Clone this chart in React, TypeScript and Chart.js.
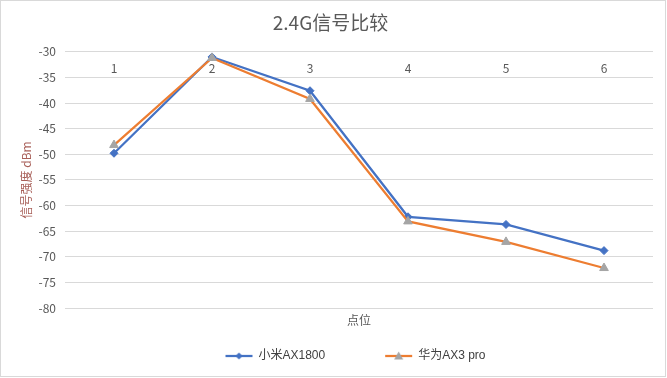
import React, { useEffect, useRef } from "react";
import { Chart, registerables } from "chart.js";

Chart.register(...registerables);

const categories = ["1", "2", "3", "4", "5", "6"];
const xiaomiValues = [-49.8, -31, -37.6, -62.2, -63.7, -68.8];
const huaweiValues = [-48.2, -31.2, -39.2, -63.1, -67.1, -72.2];
const seriesNames = ["小米AX1800", "华为AX3 pro"];
const chartTitle = "2.4G信号比较";
const yTitle = "信号强度 dBm";
const xTitle = "点位";

const CJK = "'Noto Sans CJK SC', sans-serif";
const LEGEND_FONT = "'Liberation Sans', 'Noto Sans CJK SC', sans-serif";
const GREY_TEXT = "#595959";
const BLUE = "#4472C4";
const ORANGE = "#ED7D31";
const MARKER_GREY = "#A5A5A5";
const BOX_W = 77;

function legendImage(color: string, marker: "diamond" | "triangle"): HTMLCanvasElement {
  const c = document.createElement("canvas");
  const w = BOX_W + 4;
  c.width = w;
  c.height = 12;
  const ctx = c.getContext("2d")!;
  const y = 6;
  ctx.strokeStyle = color;
  ctx.lineWidth = 2.25;
  ctx.beginPath();
  ctx.moveTo(w - 29, y);
  ctx.lineTo(w - 2, y);
  ctx.stroke();
  const cx = w - 15.5;
  if (marker === "diamond") {
    ctx.fillStyle = color;
    ctx.beginPath();
    ctx.moveTo(cx, y - 3.5);
    ctx.lineTo(cx + 3.5, y);
    ctx.lineTo(cx, y + 3.5);
    ctx.lineTo(cx - 3.5, y);
    ctx.closePath();
    ctx.fill();
  } else {
    ctx.fillStyle = MARKER_GREY;
    ctx.beginPath();
    ctx.moveTo(cx, y - 4.5);
    ctx.lineTo(cx + 4.5, y + 3.5);
    ctx.lineTo(cx - 4.5, y + 3.5);
    ctx.closePath();
    ctx.fill();
  }
  return c;
}

const frame = {
  id: "frame",
  beforeDraw(chart: any) {
    const { ctx, width, height } = chart;
    ctx.save();
    ctx.fillStyle = "#ffffff";
    ctx.fillRect(0, 0, width, height);
    ctx.strokeStyle = "#d9d9d9";
    ctx.lineWidth = 1;
    ctx.strokeRect(0.5, 0.5, width - 2, height - 2);
    ctx.restore();
  },
};

export default function App() {
  const ref = useRef<HTMLCanvasElement | null>(null);
  useEffect(() => {
    if (!ref.current) return;
    const images = [legendImage(BLUE, "diamond"), legendImage(ORANGE, "triangle")];
    const chart = new Chart(ref.current, {
      type: "line",
      data: {
        labels: categories,
        datasets: [
          {
            label: seriesNames[0],
            data: xiaomiValues,
            borderColor: BLUE,
            backgroundColor: BLUE,
            borderWidth: 2.25,
            pointStyle: "rectRot",
            pointRadius: 4,
            pointBackgroundColor: BLUE,
            pointBorderColor: BLUE,
            pointBorderWidth: 1,
            order: 1,
          },
          {
            label: seriesNames[1],
            data: huaweiValues,
            borderColor: ORANGE,
            backgroundColor: ORANGE,
            borderWidth: 2.25,
            pointStyle: "triangle",
            pointRadius: 5,
            pointBackgroundColor: MARKER_GREY,
            pointBorderColor: MARKER_GREY,
            pointBorderWidth: 1,
            order: 0,
          },
        ],
      },
      options: {
        responsive: false,
        animation: false,
        layout: { padding: { left: 8, right: 14, top: 0, bottom: 6 } },
        plugins: {
          tooltip: { enabled: false },
          title: {
            display: true,
            text: chartTitle,
            color: GREY_TEXT,
            font: { family: CJK, size: 19, weight: "normal" },
            padding: { top: 11, bottom: 18 },
          },
          legend: {
            position: "bottom",
            labels: {
              usePointStyle: true,
              pointStyleWidth: BOX_W,
              boxHeight: 12,
              padding: 10,
              color: "#404040",
              font: { family: LEGEND_FONT, size: 12 },
              generateLabels: (c: any) => {
                const items = Chart.defaults.plugins.legend.labels.generateLabels(c);
                return items
                  .slice()
                  .sort((a: any, b: any) => a.datasetIndex - b.datasetIndex)
                  .map((it: any) => ({ ...it, pointStyle: images[it.datasetIndex] }));
              },
            },
          },
        },
        scales: {
          y: {
            min: -80,
            max: -30,
            ticks: { stepSize: 5, color: GREY_TEXT, font: { family: CJK, size: 12 }, padding: 9 },
            grid: { color: "#d9d9d9", lineWidth: 1, drawTicks: false },
            border: { display: false },
            title: {
              display: true,
              text: yTitle,
              color: "#a85f58",
              font: { family: CJK, size: 12 },
              padding: { top: 11, bottom: 0 },
            },
            afterFit: (s: any) => {
              s.width = 57;
            },
          },
          x: {
            type: "category",
            position: { y: -30 } as any,
            offset: true,
            grid: { display: false },
            border: { display: false },
            ticks: { color: GREY_TEXT, font: { family: CJK, size: 12 }, padding: 1, maxRotation: 0 },
          },
          x2: {
            type: "category",
            position: "bottom",
            offset: true,
            grid: { display: false },
            border: { display: false },
            ticks: { display: false },
            title: {
              display: true,
              text: xTitle,
              color: GREY_TEXT,
              font: { family: CJK, size: 12 },
              padding: { top: 0, bottom: 12.8 },
            },
            afterFit: (s: any) => {
              s.height = 32;
            },
          },
        },
      },
      plugins: [frame],
    });
    return () => chart.destroy();
  }, []);
  return (
    <div style={{ position: "fixed", left: 0, top: 0, width: 667, height: 378, background: "#fff" }}>
      <canvas ref={ref} width={667} height={378} style={{ display: "block" }} />
    </div>
  );
}
